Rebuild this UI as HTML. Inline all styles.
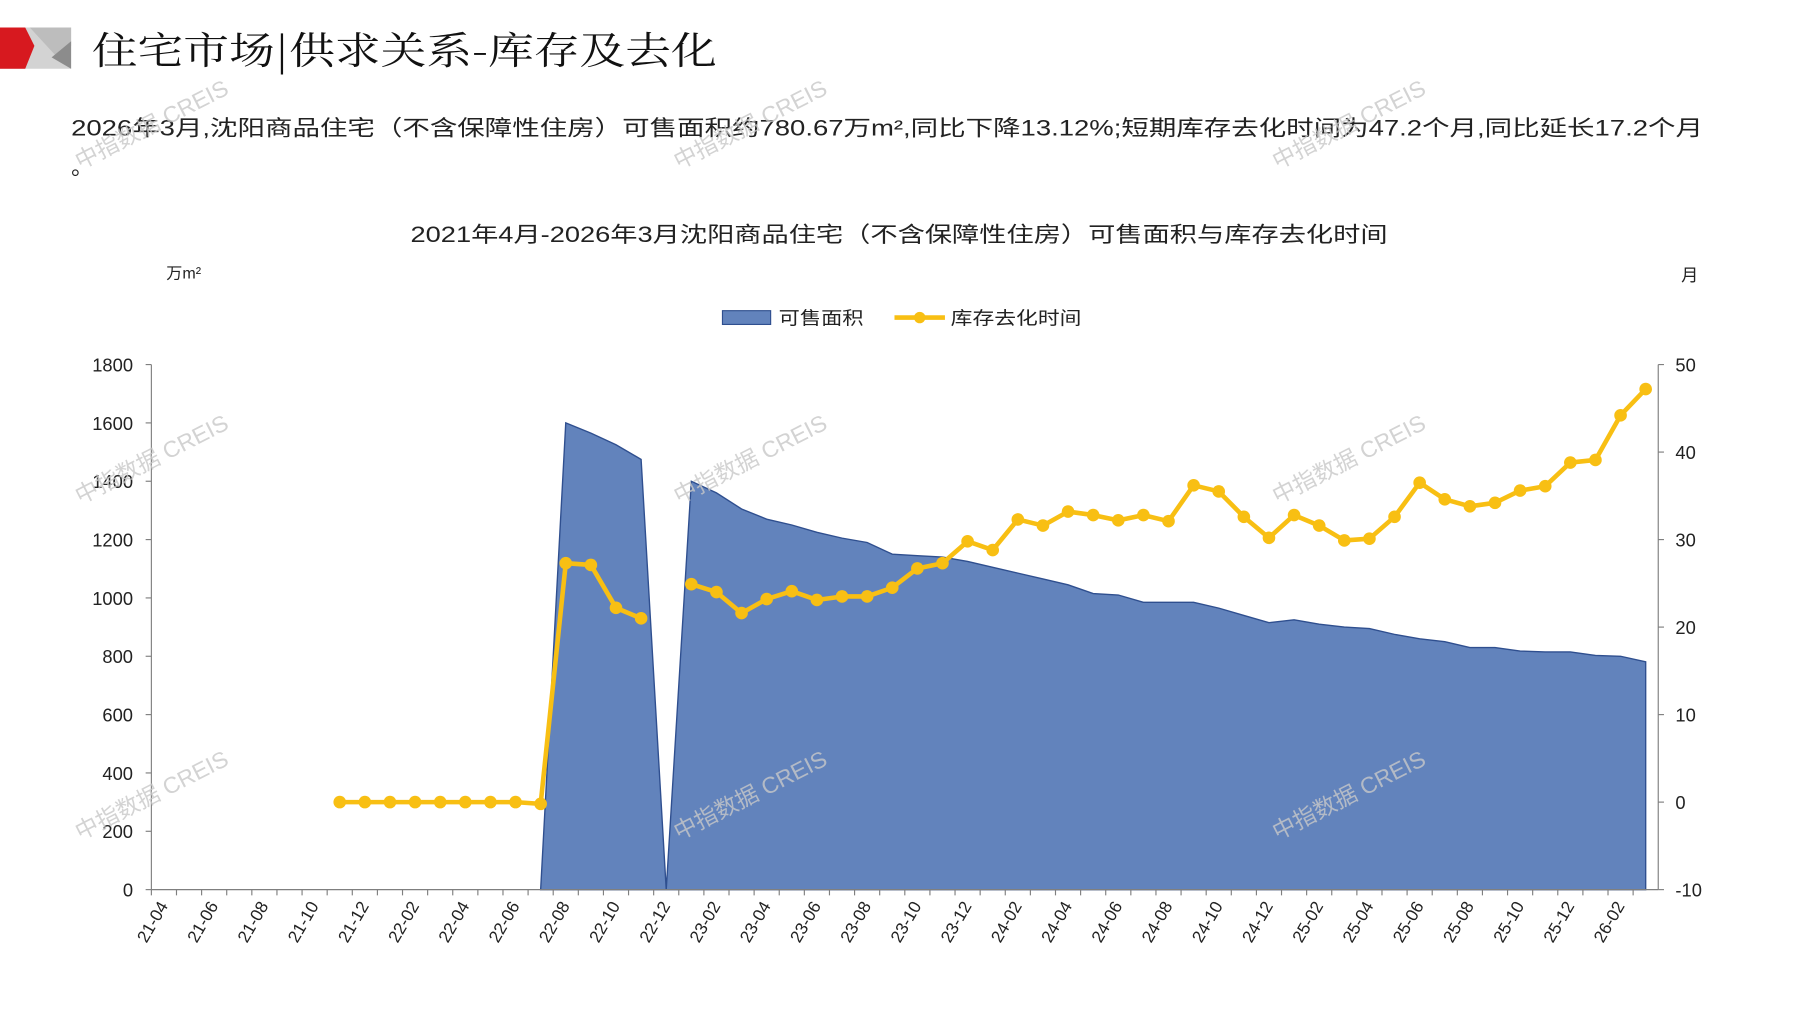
<!DOCTYPE html>
<html><head><meta charset="utf-8">
<style>
html,body{margin:0;padding:0;background:#fff;}
svg{display:block;font-family:"Liberation Sans","Noto Sans CJK SC",sans-serif;}
</style></head>
<body>
<svg id="chart" width="1797" height="1010" viewBox="0 0 1567 881" preserveAspectRatio="none" xmlns="http://www.w3.org/2000/svg">
  <g>
    <polygon points="0,24 62,24 62,60 0,60" fill="#d3d3d3"/>
    <polygon points="0,24 22,24 30,40 22,60 0,60" fill="#d7191f"/>
    <polygon points="26,24 62,24 62,40 50,50" fill="#bdbdbd"/>
    <polygon points="45,50 62,36 62,60" fill="#8c8c8c"/>
  </g>
  <text x="80" y="56" font-size="33" textLength="545" lengthAdjust="spacingAndGlyphs" font-family="'Noto Serif CJK SC','Liberation Serif',serif" fill="#111">住宅市场|供求关系-库存及去化</text>
  <text x="62" y="118" font-size="19" textLength="1423" lengthAdjust="spacingAndGlyphs" fill="#222">2026年3月,沈阳商品住宅（不含保障性住房）可售面积约780.67万m²,同比下降13.12%;短期库存去化时间为47.2个月,同比延长17.2个月</text>
  <text x="62" y="152" font-size="19" fill="#222">。</text>
  <text x="358" y="211" font-size="19" textLength="852" lengthAdjust="spacingAndGlyphs" fill="#222">2021年4月-2026年3月沈阳商品住宅（不含保障性住房）可售面积与库存去化时间</text>
  <text x="145" y="243" font-size="14" fill="#222">万m²</text>
  <text x="1466" y="245" font-size="15" fill="#222">月</text>
  <g>
    <rect x="630" y="271" width="42" height="12" fill="#6283bc" stroke="#2f4f8f"/>
    <text x="679" y="283" font-size="16" textLength="74" lengthAdjust="spacingAndGlyphs" fill="#222">可售面积</text>
    <line x1="780" y1="277" x2="824" y2="277" stroke="#f8bf13" stroke-width="4"/>
    <circle cx="802" cy="277" r="5" fill="#f8bf13"/>
    <text x="829" y="283" font-size="16" textLength="114" lengthAdjust="spacingAndGlyphs" fill="#222">库存去化时间</text>
  </g>
  <g id="plot"></g>
  <g id="wm" fill="#c8c8c8" font-size="20" opacity="0.8"></g>
</svg>
<script>
const categories = [];
for (let y = 21; y <= 26; y++) for (let m = 1; m <= 12; m++) {
  if ((y === 21 && m < 4) || (y === 26 && m > 3)) continue;
  categories.push(y + "-" + String(m).padStart(2, "0"));
}
const areaValues = [null,null,null,null,null,null,null,null,null,null,null,null,null,null,null,0,1600,1565,1525,1475,0,1400,1360,1305,1270,1250,1225,1205,1190,1150,1145,1140,1125,1105,1085,1065,1045,1015,1010,985,985,985,965,940,915,925,910,900,895,875,860,850,830,830,818,815,815,803,800,781];
const monthsValues = [null,null,null,null,null,null,null,0,0,0,0,0,0,0,0,-0.2,27.3,27.1,22.2,21,null,24.9,24,21.6,23.2,24.1,23.1,23.5,23.5,24.5,26.7,27.3,29.8,28.8,32.3,31.6,33.2,32.8,32.2,32.8,32.1,36.2,35.5,32.6,30.2,32.8,31.6,29.9,30.1,32.6,36.5,34.6,33.8,34.2,35.6,36.1,38.8,39.1,44.2,47.2];
const leftTicks = [0,200,400,600,800,1000,1200,1400,1600,1800];
const rightTicks = [-10,0,10,20,30,40,50];

const NS = "http://www.w3.org/2000/svg";
const X0 = 132, X1 = 1446, YT = 318, YB = 776;
const bw = (X1 - X0) / categories.length;
const xAt = i => X0 + bw * (i + 0.5);
const yL = v => YB - (v / 1800) * (YB - YT);
const yR = v => YB - ((v + 10) / 60) * (YB - YT);
const plot = document.getElementById("plot");
function mk(tag, attrs, parent) {
  const e = document.createElementNS(NS, tag);
  for (const k in attrs) e.setAttribute(k, attrs[k]);
  (parent || plot).appendChild(e);
  return e;
}
let seg = [];
const segs = [];
areaValues.forEach((v, i) => { if (v === null) { if (seg.length) segs.push(seg); seg = []; } else seg.push(i); });
if (seg.length) segs.push(seg);
segs.forEach(s => {
  let d = "M" + xAt(s[0]) + "," + YB;
  s.forEach(i => d += " L" + xAt(i) + "," + yL(areaValues[i]));
  d += " L" + xAt(s[s.length - 1]) + "," + YB + " Z";
  const p = mk("path", {d: d, fill: "#6283bc", stroke: "#2f4f8f", "stroke-width": 1.2});
  
  
});
const ax = mk("g", {stroke: "#7f7f7f", "stroke-width": 1});


mk("line", {x1: X0, y1: YT, x2: X0, y2: YB}, ax);
mk("line", {x1: X1, y1: YT, x2: X1, y2: YB}, ax);
mk("line", {x1: X0, y1: YB, x2: X1, y2: YB}, ax);
leftTicks.forEach(t => {
  mk("line", {x1: X0 - 5, y1: yL(t), x2: X0, y2: yL(t)}, ax);
  const tx = mk("text", {x: X0 - 16, y: yL(t) + 6, "font-size": 16, "text-anchor": "end", fill: "#222", stroke: "none"});
  tx.textContent = t;
  
  
});
rightTicks.forEach(t => {
  mk("line", {x1: X1, y1: yR(t), x2: X1 + 5, y2: yR(t)}, ax);
  const tx = mk("text", {x: X1 + 15, y: yR(t) + 6, "font-size": 16, fill: "#222", stroke: "none"});
  tx.textContent = t;
  
  
});
categories.forEach((c, i) => {
  mk("line", {x1: X0 + bw * i, y1: YB, x2: X0 + bw * i, y2: YB + 5}, ax);
  if (i % 2 === 0) {
    const x = xAt(i) + 4, y = YB + 14;
    const tx = mk("text", {x: x, y: y, "font-size": 15, "text-anchor": "end", fill: "#222", stroke: "none", transform: "rotate(-60 " + x + " " + y + ")"});
    tx.textContent = c;
    
    
  }
});
let lseg = [];
const lsegs = [];
monthsValues.forEach((v, i) => { if (v === null) { if (lseg.length) lsegs.push(lseg); lseg = []; } else lseg.push(i); });
if (lseg.length) lsegs.push(lseg);
lsegs.forEach(s => {
  const pts = s.map(i => xAt(i) + "," + yR(monthsValues[i])).join(" ");
  const pl = mk("polyline", {points: pts, fill: "none", stroke: "#f8bf13", "stroke-width": 4, "stroke-linejoin": "round"});
  
  
  s.forEach(i => {
    const c = mk("circle", {cx: xAt(i), cy: yR(monthsValues[i]), r: 5.5, fill: "#f8bf13"});
    
    
  });
});
const wm = document.getElementById("wm");
[[70,148],[592,148],[1114,148],[70,440],[592,440],[1114,440],[70,733],[592,733],[1114,733]].forEach(p => {
  const t = document.createElementNS(NS, "text");
  t.setAttribute("x", p[0]); t.setAttribute("y", p[1]);
  t.setAttribute("transform", "rotate(-27 " + p[0] + " " + p[1] + ")");
  t.textContent = "中指数据 CREIS";
  
  
  wm.appendChild(t);
});
</script>
</body></html>
